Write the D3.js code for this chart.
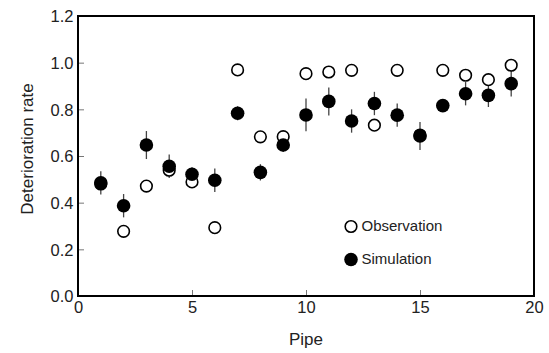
<!DOCTYPE html>
<html><head><meta charset="utf-8">
<script src="https://cdn.jsdelivr.net/npm/d3@7"></script>
<style>body{margin:0;background:#fff}svg{display:block}text{font-family:"Liberation Sans",Arial,sans-serif;fill:#222}</style>
</head><body>
<svg id="c" width="549" height="353"></svg>
<script>
const pipes = [1,2,3,4,5,6,7,8,9,10,11,12,13,14,15,16,17,18,19];
const observation = [0.48,0.277,0.471,0.539,0.489,0.293,0.969,0.682,0.683,0.953,0.960,0.967,0.732,0.967,0.69,0.967,0.946,0.927,0.989];
const simulation = [0.485,0.387,0.647,0.556,0.522,0.496,0.783,0.530,0.647,0.776,0.834,0.750,0.825,0.775,0.686,0.816,0.867,0.860,0.910];
const simError = [0.05,0.05,0.06,0.05,0.03,0.05,0.03,0.035,0.03,0.07,0.06,0.05,0.05,0.05,0.06,0.02,0.05,0.05,0.055];
const xTicks = [0,5,10,15,20];
const yTicks = [0,0.2,0.4,0.6,0.8,1.0,1.2];

const svg = d3.select("#c");
const L=78, R=534, T=16, B=296;
const x = d3.scaleLinear().domain([0,20]).range([L,R]);
const y = d3.scaleLinear().domain([0,1.2]).range([B,T]);

const xa = svg.append("g").attr("transform",`translate(0,${B})`)
  .call(d3.axisBottom(x).tickValues(xTicks).tickSize(-6).tickFormat(d3.format("d")));
const ya = svg.append("g").attr("transform",`translate(${L},0)`)
  .call(d3.axisLeft(y).tickValues(yTicks).tickSize(-6).tickPadding(4.5).tickFormat(d3.format(".1f")));
[xa,ya].forEach(a=>{
  a.select(".domain").remove();
  a.selectAll(".tick line").attr("stroke","#777").attr("stroke-width",1);
  a.selectAll(".tick text").attr("font-size",16.5).attr("fill","#222").style("font-family","Liberation Sans, Arial, sans-serif");
});
xa.selectAll(".tick text").attr("y",17).attr("dy",0);
ya.selectAll(".tick text").attr("dy","0.35em");

svg.append("rect").attr("x",L).attr("y",T).attr("width",R-L).attr("height",B-T)
  .attr("fill","none").attr("stroke","#000").attr("stroke-width",2);

svg.append("text").attr("x",(L+R)/2).attr("y",345).attr("text-anchor","middle").attr("font-size",17).text("Pipe");
svg.append("text").attr("transform",`translate(33,149) rotate(-90)`).attr("text-anchor","middle").attr("font-size",17).text("Deterioration rate");

svg.append("g").selectAll("line").data(pipes).join("line")
  .attr("x1",d=>x(d)).attr("x2",d=>x(d))
  .attr("y1",(d,i)=>y(simulation[i]-simError[i])).attr("y2",(d,i)=>y(simulation[i]+simError[i]))
  .attr("stroke","#444").attr("stroke-width",1.3);

svg.append("g").selectAll("circle").data(pipes).join("circle")
  .attr("cx",d=>x(d)).attr("cy",(d,i)=>y(observation[i])).attr("r",5.8)
  .attr("fill","#fff").attr("stroke","#000").attr("stroke-width",1.6);
svg.append("g").selectAll("circle").data(pipes).join("circle")
  .attr("cx",d=>x(d)).attr("cy",(d,i)=>y(simulation[i])).attr("r",6.8)
  .attr("fill","#000");

const lg = svg.append("g");
lg.append("circle").attr("cx",351).attr("cy",226.5).attr("r",5.8).attr("fill","#fff").attr("stroke","#000").attr("stroke-width",1.6);
lg.append("text").attr("x",361.5).attr("y",231).attr("font-size",15).text("Observation");
lg.append("circle").attr("cx",351).attr("cy",259.5).attr("r",6.8).attr("fill","#000");
lg.append("text").attr("x",361.5).attr("y",264).attr("font-size",15).text("Simulation");
</script>
</body></html>
